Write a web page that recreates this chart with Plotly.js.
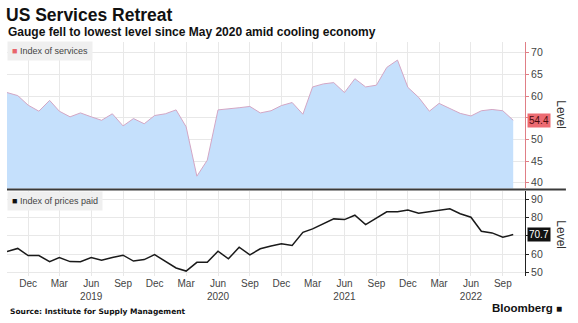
<!DOCTYPE html>
<html>
<head>
<meta charset="utf-8">
<script src="https://cdn.plot.ly/plotly-3.0.1.min.js"></script>
<style>html,body{margin:0;padding:0;background:#fff}#chart{width:578px;height:323px}</style>
</head>
<body>
<div id="chart"></div>
<script>
// Monthly observations, Oct 2018 – Oct 2022
const months = [
  "2018-10-01","2018-11-01","2018-12-01",
  "2019-01-01","2019-02-01","2019-03-01","2019-04-01","2019-05-01","2019-06-01",
  "2019-07-01","2019-08-01","2019-09-01","2019-10-01","2019-11-01","2019-12-01",
  "2020-01-01","2020-02-01","2020-03-01","2020-04-01","2020-05-01","2020-06-01",
  "2020-07-01","2020-08-01","2020-09-01","2020-10-01","2020-11-01","2020-12-01",
  "2021-01-01","2021-02-01","2021-03-01","2021-04-01","2021-05-01","2021-06-01",
  "2021-07-01","2021-08-01","2021-09-01","2021-10-01","2021-11-01","2021-12-01",
  "2022-01-01","2022-02-01","2022-03-01","2022-04-01","2022-05-01","2022-06-01",
  "2022-07-01","2022-08-01","2022-09-01","2022-10-01"
];
const servicesIndex = [
  60.8, 60.1, 57.9,
  56.5, 59.0, 56.5, 55.2, 56.1, 55.2,
  54.4, 55.9, 53.1, 54.8, 53.6, 55.5,
  55.9, 56.8, 52.9, 41.5, 45.2, 56.8,
  57.0, 57.3, 57.6, 56.1, 56.6, 57.8,
  58.5, 55.8, 62.1, 62.8, 63.1, 60.8,
  64.0, 62.1, 62.5, 66.6, 68.3, 62.0,
  59.7, 56.5, 58.3, 57.2, 56.0, 55.4,
  56.6, 56.9, 56.6, 54.4
];
const pricesPaid = [
  61.4, 63.1, 59.2,
  59.2, 55.9, 58.1, 55.9, 55.8, 58.1,
  56.6, 58.1, 59.4, 56.2, 57.0, 59.7,
  56.2, 52.4, 50.7, 55.5, 55.5, 61.6,
  57.4, 63.8, 59.6, 62.9, 64.4, 65.7,
  64.7, 71.9, 73.8, 76.5, 79.3, 78.9,
  81.3, 76.2, 79.9, 83.2, 83.2, 84.1,
  82.4, 83.2, 84.1, 84.8, 82.1, 80.2,
  72.5, 71.6, 69.2, 70.7
];
const tickDates = [
  "2018-12-01","2019-03-01","2019-06-01","2019-09-01","2019-12-01",
  "2020-03-01","2020-06-01","2020-09-01","2020-12-01",
  "2021-03-01","2021-06-01","2021-09-01","2021-12-01",
  "2022-03-01","2022-06-01","2022-09-01"
];
const tickLabels = [
  "Dec","Mar","Jun<br>2019","Sep","Dec",
  "Mar","Jun<br>2020","Sep","Dec",
  "Mar","Jun<br>2021","Sep","Dec",
  "Mar","Jun<br>2022","Sep"
];
const servicesTicks = [40, 45, 50, 55, 60, 65, 70];
const pricesTicks = [50, 60, 70, 80, 90];

const FONT = "Liberation Sans, Arial, sans-serif";
const lastS = servicesIndex[servicesIndex.length - 1];
const lastP = pricesPaid[pricesPaid.length - 1];

// tick labels hidden behind the last-value badges (as in the reference)
const sTickText = servicesTicks.map(v => Math.abs(v - lastS) < 2.5 ? "" : String(v));
const pTickText = pricesTicks.map(v => Math.abs(v - lastP) < 4 ? "" : String(v));

const traces = [
  {
    x: months, y: servicesIndex, type: "scatter", mode: "lines",
    fill: "tozeroy", fillcolor: "rgba(197,224,252,1)",
    line: {color: "#d3a6c4", width: 1},
    xaxis: "x", yaxis: "y", hoverinfo: "skip", showlegend: false
  },
  {
    x: months, y: pricesPaid, type: "scatter", mode: "lines",
    line: {color: "#1a1a1a", width: 1.5},
    xaxis: "x2", yaxis: "y2", hoverinfo: "skip", showlegend: false
  }
];

const xRange = ["2018-10-01", "2022-11-04"];
const gridCol = "#e8e8e8";

const layout = {
  width: 578, height: 323,
  margin: {l: 7, r: 53, t: 42, b: 47},
  paper_bgcolor: "#fff", plot_bgcolor: "#fff",
  font: {family: FONT, size: 10, color: "#444"},
  title: {
    text: "<b>US Services Retreat</b>",
    font: {family: FONT, size: 17.5, color: "#111"},
    xref: "container", yref: "container",
    x: 6/578, xanchor: "left", y: 1 - 15/323, yanchor: "middle"
  },
  xaxis: {
    type: "date", range: xRange, domain: [0, 1], anchor: "y",
    tickvals: tickDates, showticklabels: false, ticks: "",
    showgrid: true, gridcolor: gridCol, gridwidth: 1, zeroline: false, showline: false
  },
  yaxis: {
    domain: [0.374, 1], range: [38.66, 72.47], side: "right",
    tickvals: servicesTicks, ticktext: sTickText, ticks: "outside", ticklen: 3, tickcolor: "#e07f86",
    showline: true, linecolor: "#e07f86", linewidth: 1,
    showgrid: true, gridcolor: gridCol, zeroline: false,
    tickfont: {family: FONT, size: 10.5, color: "#444"}
  },
  xaxis2: {
    type: "date", range: xRange, domain: [0, 1], anchor: "y2", matches: "x",
    tickvals: tickDates, ticktext: tickLabels, ticks: "",
    showgrid: true, gridcolor: gridCol, zeroline: false, showline: false,
    tickfont: {family: FONT, size: 10, color: "#444"}
  },
  yaxis2: {
    domain: [0, 0.365], range: [48, 94.8], side: "right", anchor: "x2",
    tickvals: pricesTicks, ticktext: pTickText, ticks: "outside", ticklen: 3, tickcolor: "#222",
    showline: true, linecolor: "#222", linewidth: 1,
    showgrid: true, gridcolor: gridCol, zeroline: false,
    tickfont: {family: FONT, size: 10.5, color: "#444"}
  },
  shapes: [
    {type: "line", xref: "paper", yref: "paper", x0: 0, x1: 1.079, y0: 0.3697, y1: 0.3697,
     line: {color: "#3a3a3a", width: 2}}
  ],
  annotations: [
    {text: "<b>Gauge fell to lowest level since May 2020 amid cooling economy</b>",
     xref: "paper", yref: "paper", x: -0.002, y: 1.0427, xanchor: "left", yanchor: "middle",
     showarrow: false, font: {family: FONT, size: 12, color: "#111"}},
    {text: "<span style='color:#e8656c'>■</span> Index of services",
     xref: "paper", yref: "paper", x: 0.0, y: 1.005, xanchor: "left", yanchor: "top",
     showarrow: false, bgcolor: "#efefef", borderpad: 4,
     font: {family: FONT, size: 9, color: "#444"}},
    {text: "<span style='color:#111'>■</span> Index of prices paid",
     xref: "paper", yref: "paper", x: 0.0, y: 0.362, xanchor: "left", yanchor: "top",
     showarrow: false, bgcolor: "#efefef", borderpad: 4,
     font: {family: FONT, size: 9, color: "#444"}},
    {text: lastS.toFixed(1), xref: "paper", yref: "y", x: 1.003, y: lastS,
     xanchor: "left", yanchor: "middle", showarrow: false,
     bgcolor: "#ec6b72", borderpad: 1, font: {family: FONT, size: 10, color: "#4a0b0e"}},
    {text: lastP.toFixed(1), xref: "paper", yref: "y2", x: 1.003, y: lastP,
     xanchor: "left", yanchor: "middle", showarrow: false,
     bgcolor: "#111", borderpad: 1, font: {family: FONT, size: 10, color: "#fff"}},
    {text: "Level", xref: "paper", yref: "paper", x: 1.069, y: 0.688, textangle: 90,
     xanchor: "center", yanchor: "middle", showarrow: false,
     font: {family: FONT, size: 12, color: "#333"}},
    {text: "Level", xref: "paper", yref: "paper", x: 1.069, y: 0.175, textangle: 90,
     xanchor: "center", yanchor: "middle", showarrow: false,
     font: {family: FONT, size: 12, color: "#333"}},
    {text: "<b>Source: Institute for Supply Management</b>",
     xref: "paper", yref: "paper", x: 0.002, y: -0.1496, xanchor: "left", yanchor: "middle",
     showarrow: false, font: {family: "DejaVu Sans, sans-serif", size: 7.5, color: "#111"}},
    {text: "<b>Bloomberg</b> <span style='font-size:10px'>■</span>",
     xref: "paper", yref: "paper", x: 1.075, y: -0.138, xanchor: "right", yanchor: "middle",
     showarrow: false, font: {family: FONT, size: 11.5, color: "#111"}}
  ]
};

Plotly.newPlot("chart", traces, layout, {displayModeBar: false, staticPlot: true});
</script>
</body>
</html>
